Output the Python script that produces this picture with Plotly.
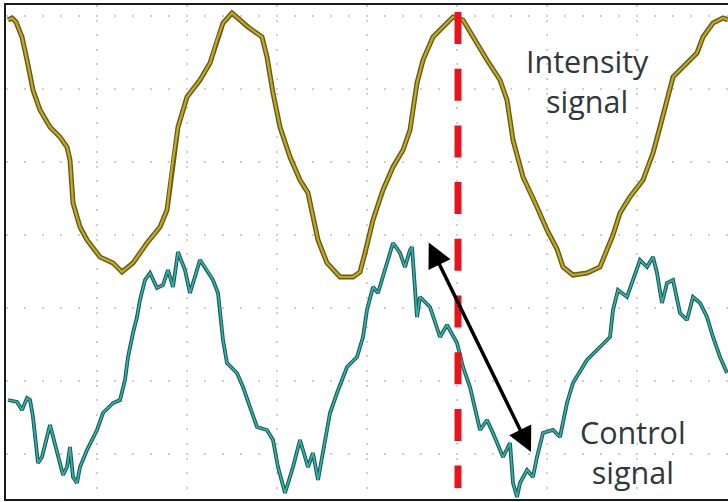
import plotly.graph_objects as go

# Oscilloscope capture: time in samples, level in arbitrary units (1 division = 90 samples / 73 units)
intensity_t = [1, 5, 9, 15, 20, 26, 33, 43, 53, 60, 63, 66, 73, 80, 93, 106, 115, 126, 140, 153,
               160, 163, 165, 171, 180, 193, 203, 210, 216, 225, 233, 241, 255, 260, 266, 273, 283,
               293, 301, 305, 311, 320, 333, 346, 353, 358, 366, 376, 386, 396, 403, 410, 416, 426,
               440, 446, 456, 466, 480, 493, 500, 506, 516, 530, 540, 550, 556, 566, 580, 593, 600,
               606, 613, 623, 636, 646, 653, 660, 666, 676, 690, 696, 706, 716, 721]
intensity_v = [434, 436, 432, 417, 394, 364, 344, 327, 317, 307, 294, 251, 227, 214, 197, 191, 182,
               191, 211, 227, 244, 267, 287, 327, 357, 374, 391, 414, 431, 441, 434, 427, 417, 397,
               361, 327, 297, 274, 261, 241, 214, 191, 177, 177, 182, 201, 234, 264, 287, 304, 324,
               371, 394, 417, 431, 437, 434, 417, 394, 374, 354, 314, 277, 247, 224, 205, 187, 179,
               181, 187, 204, 219, 241, 257, 274, 301, 327, 354, 377, 387, 401, 417, 431, 436, 434]

control_t = [1, 10, 15, 20, 23, 26, 31, 35, 43, 50, 56, 60, 63, 66, 70, 73, 80, 90, 96, 106, 113,
             118, 121, 126, 130, 133, 138, 143, 150, 156, 161, 166, 171, 178, 183, 193, 200, 206,
             211, 213, 216, 220, 230, 236, 243, 250, 260, 266, 271, 278, 286, 293, 301, 306, 311,
             316, 323, 330, 340, 350, 356, 360, 366, 371, 380, 386, 393, 398, 403, 405, 410, 413,
             423, 433, 440, 450, 456, 463, 470, 473, 480, 486, 496, 503, 506, 510, 513, 520, 526,
             530, 536, 546, 553, 560, 566, 580, 593, 603, 606, 611, 620, 626, 633, 640, 646, 650,
             655, 660, 666, 673, 680, 686, 693, 700, 706, 713, 720]
control_v = [54, 52, 44, 56, 54, 37, -9, -3, 29, 1, -21, -13, 7, -23, -29, -13, 4, 24, 41, 51, 54,
             74, 97, 121, 137, 154, 174, 181, 166, 169, 184, 167, 202, 184, 161, 194, 184, 174, 161,
             144, 114, 91, 81, 67, 46, 27, 24, 14, -13, -39, -13, 14, -13, 1, -26, 1, 41, 61, 87,
             97, 117, 144, 167, 161, 191, 211, 201, 187, 204, 207, 137, 157, 147, 117, 129, 111, 87,
             67, 37, 24, 34, 21, -3, 11, -29, -43, -29, -16, -23, -3, 21, 24, 17, 51, 71, 94, 107,
             117, 144, 164, 157, 174, 194, 187, 197, 181, 151, 171, 174, 141, 134, 157, 151, 137,
             117, 97, 81]

marker_t = 451           # red dashed cursor
marker_span = [442, -34]
arrow_from = (421, 213)  # phase-lag arrow (t, level)
arrow_to = (524, 2)

labels = ["Intensity<br>signal", "Control<br>signal"]
label_pos = [(580, 373), (626, 2)]

fig = go.Figure()

# intensity trace (dark body + lighter core for the scope texture)
fig.add_trace(go.Scatter(x=intensity_t, y=intensity_v, mode="lines",
                         line=dict(color="rgb(105,90,18)", width=5), hoverinfo="skip"))
fig.add_trace(go.Scatter(x=intensity_t, y=intensity_v, mode="lines",
                         line=dict(color="rgb(190,170,42)", width=2.2), hoverinfo="skip"))
# control trace
fig.add_trace(go.Scatter(x=control_t, y=control_v, mode="lines",
                         line=dict(color="rgb(20,95,92)", width=3.8), hoverinfo="skip"))
fig.add_trace(go.Scatter(x=control_t, y=control_v, mode="lines",
                         line=dict(color="rgb(60,175,165)", width=1.6), hoverinfo="skip"))

# red dashed cursor
fig.add_trace(go.Scatter(x=[marker_t, marker_t], y=marker_span, mode="lines",
                         line=dict(color="rgb(232,20,28)", width=7, dash="32px,24.7px"),
                         hoverinfo="skip"))

# double-headed arrow
fig.add_annotation(x=arrow_to[0], y=arrow_to[1], ax=arrow_from[0], ay=arrow_from[1],
                   xref="x", yref="y", axref="x", ayref="y", text="", showarrow=True,
                   arrowhead=2, startarrowhead=2, arrowside="end+start",
                   arrowsize=1.4, startarrowsize=1.4, arrowwidth=3.5, arrowcolor="black")

for txt, (tx, ty) in zip(labels, label_pos):
    fig.add_annotation(x=tx, y=ty, xref="x", yref="y", text=txt, showarrow=False,
                       font=dict(family="Open Sans", size=30.5, color="#2f393c"),
                       align="center")

fig.update_layout(
    width=728, height=502,
    margin=dict(l=6, r=0, t=5, b=3),
    paper_bgcolor="white", plot_bgcolor="white",
    showlegend=False,
)
fig.update_xaxes(range=[-1, 721], tick0=0, dtick=90, showticklabels=False, ticks="",
                 showgrid=True, gridcolor="#cfcfcf", gridwidth=2, griddash="2px,12.6px",
                 zeroline=False, showline=True, linecolor="#1a1a1a", linewidth=2, mirror=True)
fig.update_yaxes(range=[-45, 449], tick0=0, dtick=73, showticklabels=False, ticks="",
                 showgrid=True, gridcolor="#cfcfcf", gridwidth=2, griddash="2px,16px",
                 zeroline=False, showline=True, linecolor="#1a1a1a", linewidth=2, mirror=False)

fig.write_html("out.html", config={"displayModeBar": False},
               post_script="document.body.style.margin='0';")
